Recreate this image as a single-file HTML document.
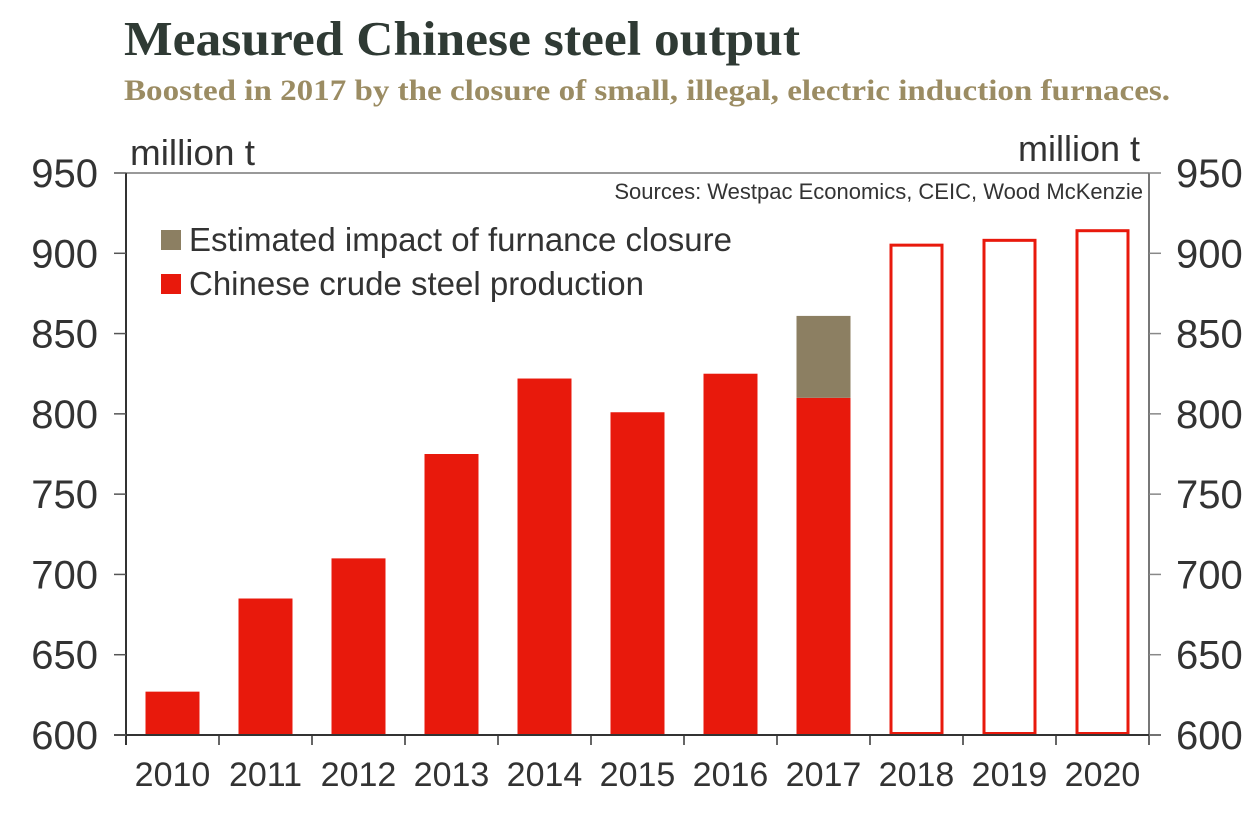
<!DOCTYPE html>
<html><head><meta charset="utf-8"><style>
body{margin:0;background:#fff;width:1255px;height:824px;overflow:hidden}
svg text{font-family:"Liberation Sans",sans-serif}
</style></head><body>
<svg width="1255" height="824">
<text x="124" y="55" font-weight="bold" font-size="49" fill="#2f3a34" textLength="676" lengthAdjust="spacingAndGlyphs" style="font-family:'Liberation Serif',serif">Measured Chinese steel output</text>
<text x="124" y="100" font-weight="bold" font-size="30" fill="#9b8c63" textLength="1046" lengthAdjust="spacingAndGlyphs" style="font-family:'Liberation Serif',serif">Boosted in 2017 by the closure of small, illegal, electric induction furnaces.</text>
<text x="130" y="165" font-size="36" fill="#333" textLength="125" lengthAdjust="spacingAndGlyphs">million t</text>
<text x="1140" y="161" font-size="36" fill="#333" text-anchor="end">million t</text>
<g id="plot"></g>
<text x="1143" y="199" font-size="22" fill="#333" text-anchor="end">Sources: Westpac Economics, CEIC, Wood McKenzie</text>
<rect x="161" y="230" width="20" height="20" fill="#8c7f62"/>
<text x="189" y="251" font-size="33" fill="#333">Estimated impact of furnance closure</text>
<rect x="161" y="274" width="20" height="20" fill="#e8190c"/>
<text x="189" y="295" font-size="33" fill="#333">Chinese crude steel production</text>
</svg>
<script>
const years=["2010","2011","2012","2013","2014","2015","2016","2017","2018","2019","2020"];
const production=[627,685,710,775,822,801,825,810,906,909,915];
const closureImpact=[0,0,0,0,0,0,0,51,0,0,0];
const forecast=[false,false,false,false,false,false,false,false,true,true,true];
const yTicks=[600,650,700,750,800,850,900,950];
const NS="http://www.w3.org/2000/svg";
const g=document.getElementById('plot');
const L=126,R=1149,T=173,B=735,ymin=600,ymax=950;
const cw=(R-L)/years.length,bw=54;
const y=v=>B-(v-ymin)/(ymax-ymin)*(B-T);
const x=i=>L+cw*(i+0.5);
function mk(t,a){const e=document.createElementNS(NS,t);for(const k in a)e.setAttribute(k,a[k]);g.appendChild(e);return e;}
let e=mk('line',{x1:L,y1:T,x2:R,y2:T,stroke:'#999','stroke-width':2});


years.forEach((yr,i)=>{
  if(forecast[i]){
    e=mk('rect',{x:x(i)-bw/2+1.5,y:y(production[i])+1.5,width:bw-3,height:y(ymin)-y(production[i])-3,fill:'none',stroke:'#e8190c','stroke-width':3});
  } else {
    e=mk('rect',{x:x(i)-bw/2,y:y(production[i]),width:bw,height:y(ymin)-y(production[i]),fill:'#e8190c'});
  }
  
  
  if(closureImpact[i]>0){
    e=mk('rect',{x:x(i)-bw/2,y:y(production[i]+closureImpact[i]),width:bw,height:y(production[i])-y(production[i]+closureImpact[i]),fill:'#8c7f62'});
    
    
  }
  e=mk('text',{x:x(i),y:786,'font-size':34,fill:'#333','text-anchor':'middle'});
  e.textContent=yr;
  
  
});
for(let i=0;i<=years.length;i++){
  e=mk('line',{x1:L+cw*i,y1:B,x2:L+cw*i,y2:B+10,stroke:'#333','stroke-width':1.5});
  
  
}
e=mk('line',{x1:L,y1:T,x2:L,y2:B+10,stroke:'#333','stroke-width':2});


e=mk('line',{x1:R,y1:T,x2:R,y2:B,stroke:'#777','stroke-width':2});


e=mk('line',{x1:L-12,y1:B,x2:R+12,y2:B,stroke:'#333','stroke-width':2});


yTicks.forEach(v=>{
  e=mk('line',{x1:L-12,y1:y(v),x2:L,y2:y(v),stroke:'#555','stroke-width':1.5});
  
  
  e=mk('line',{x1:R,y1:y(v),x2:R+12,y2:y(v),stroke:'#888','stroke-width':1.5});
  
  
  e=mk('text',{x:98,y:y(v)+14,'font-size':40,fill:'#333','text-anchor':'end'});
  e.textContent=v;
  
  
  e=mk('text',{x:1176,y:y(v)+14,'font-size':40,fill:'#333'});
  e.textContent=v;
  
  
});
</script>
</body></html>
